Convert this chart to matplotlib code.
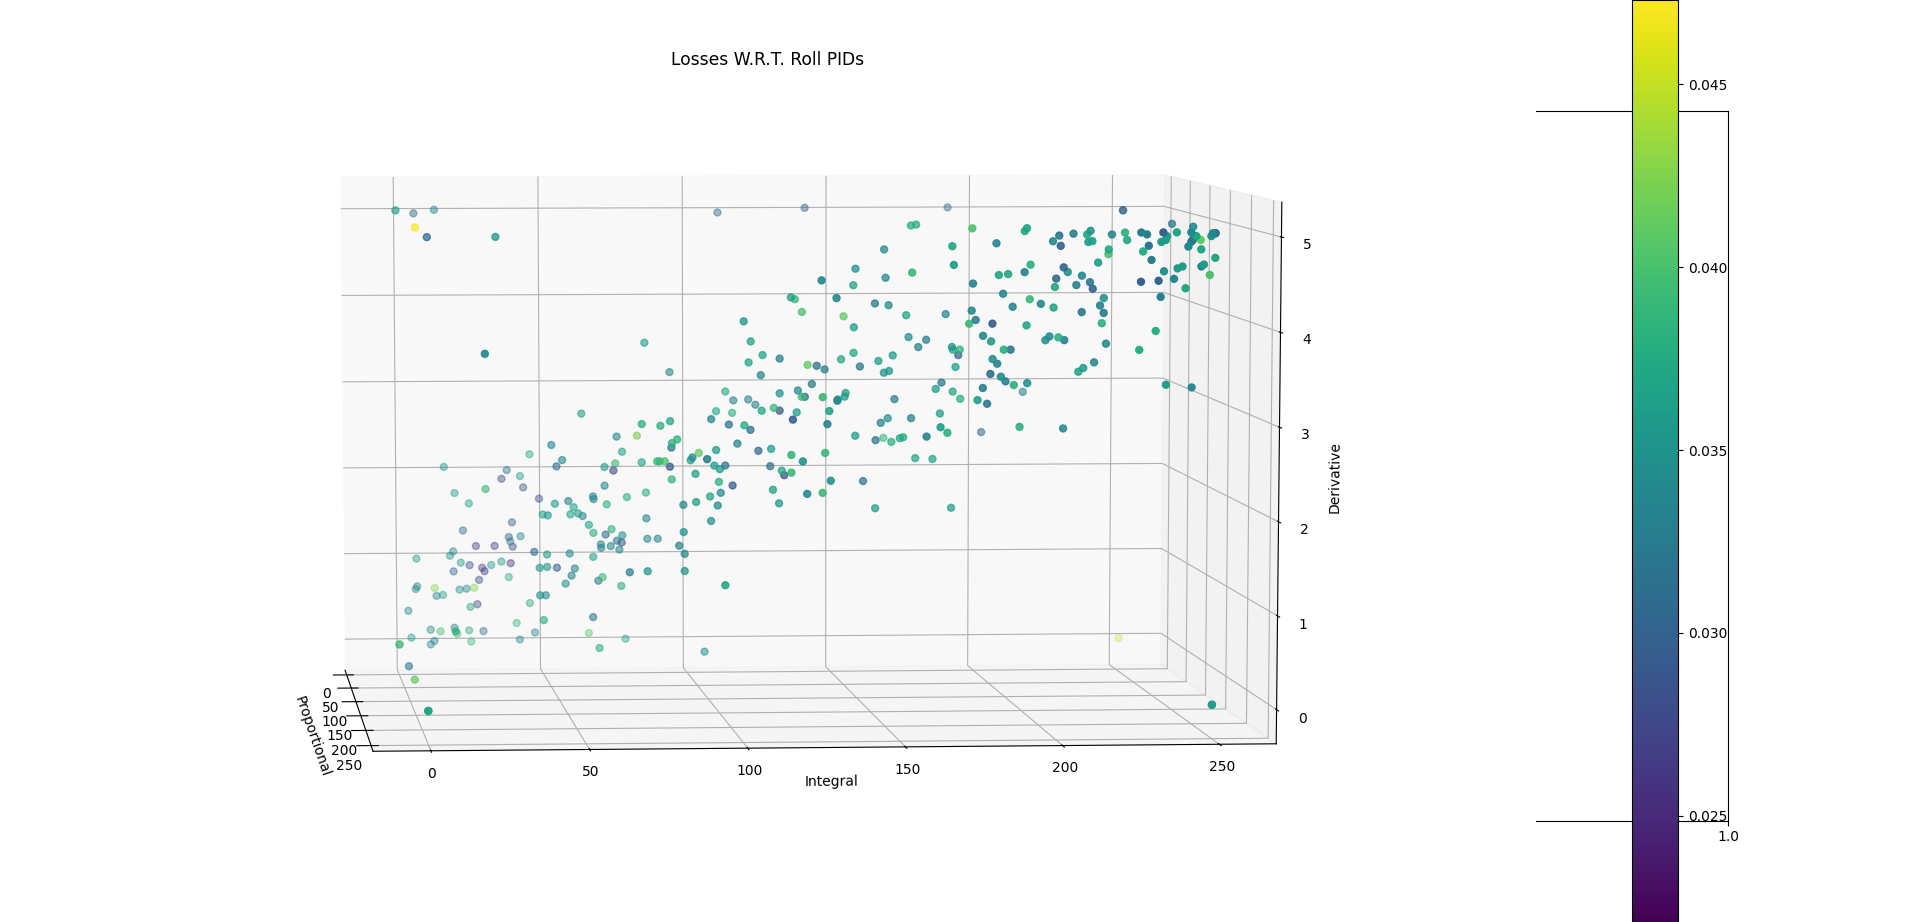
import matplotlib
matplotlib.use('Agg')
import numpy as np
import matplotlib.pyplot as plt

# (proportional, integral, derivative, loss), grouped by how far back the point sits
prop_a = 30
integ_a = [44.0, 14.7, 36.2, 34.4, 40.7, 41.8, 18.3, 23.2, 47.2, 37.9, 21.1, 36.8, 40.8, 37.3, 25.5, 31.9, 38.1, 17.7, 16.6,
           5.1, 20.3, 23.3, 27.6, 30.7, 34.2, 37.4, 28.4, 17.8, 36.7, 26.5, 5.3, 4.8, 11.3, 19.8, 22.2, 24.8, 14.1, 11.9,
           25.9, 23.5, 43.9, 2.2, 39.3, 9.8, 13.2, 18.0, 18.9, 23.0, 27.9, 45.6, 64.1, 3.2, 11.1, 9.8, 23.7, 40.4, 76.7,
           5.0, 12.0, 5.5, 5.5, 9.5, 9.5, 108.6, 138.4, 187.4]
deriv_a = [2.25, 2.11, 2.07, 1.97, 2.00, 1.87, 1.81, 1.69, 1.74, 1.47, 1.38, 1.30, 1.31, 1.25, 1.20, 1.20, 1.19, 1.14, 1.09,
           1.06, 1.01, .98, .95, .98, 1.02, 1.00, .91, .91, .84, .81, .74, .71, .72, .70, .71, .72, .64, .63,
           .53, .50, .54, .46, .31, .24, .22, .26, .19, .23, .22, .20, .19, .15, .11, .07, .10, .12, .12,
           5.00, 5.04, 4.84, 4.84, 4.73, 4.73, 5.00, 5.05, 5.05]
loss_a = [.037, .035, .032, .028, .036, .029, .036, .036, .028, .030, .031, .029, .034, .033, .027, .027, .028, .033, .035,
          .036, .036, .028, .028, .036, .036, .026, .026, .030, .038, .028, .034, .034, .043, .035, .034, .043, .036, .033,
          .028, .037, .037, .034, .039, .034, .040, .033, .040, .038, .031, .033, .041, .036, .033, .034, .039, .034, .036,
          .032, .034, .0473, .0473, .031, .031, .031, .030, .031]

prop_b = 90
integ_b = [70.1, 76.9, 48.2, 71.9, 51.8, 49.9, 66.0, 69.6, 78.5, 69.0, 26.1, 66.0, 49.3, 53.8, 62.1, 62.3, 66.7, 73.5, 79.9,
           55.6, 45.2, 46.9, 54.5, 57.1, 58.6, 80.0, 60.7, 62.2, 68.3, 66.3, 71.9, 42.3, 46.6, 54.2, 64.7, 64.8, 68.0, 70.1,
           71.7, 70.9, 80.3, 83.8, 44.1, 46.6, 49.9, 55.9, 62.1, 54.8, 65.2, 63.8, 52.8, 71.5, 44.2, 46.1, 62.0, 45.4, 64.1,
           99.5, 0.0, 79.5, 87.9, 58.3, 106.6, 109.3, 114.3, 116.7, 103.5, 108.9, 206.8, 159.8, 192.8]
deriv_b = [2.57, 2.58, 2.48, 2.40, 2.31, 2.24, 2.23, 2.27, 2.28, 2.19, 1.99, 2.02, 1.82, 1.85, 1.90, 1.87, 1.81, 1.89, 1.94,
           1.78, 1.70, 1.69, 1.70, 1.71, 1.68, 1.65, 1.58, 1.49, 1.53, 1.47, 1.46, 1.28, 1.25, 1.26, 1.36, 1.32, 1.34, 1.40,
           1.38, 1.30, 1.42, 1.42, 1.10, 1.11, 1.10, 1.09, 1.22, 1.01, .99, .95, .92, .89, .79, .79, .54, .51, .19,
           .14, .00, 3.62, 3.29, 2.83, 3.07, 2.97, 2.98, 2.92, 2.85, 2.83, 3.05, 2.54, 2.60]
loss_b = [.034, .042, .034, .037, .034, .031, .036, .039, .036, .027, .039, .034, .036, .033, .034, .033, .038, .038, .038,
          .037, .037, .035, .037, .036, .034, .033, .037, .038, .038, .031, .035, .031, .036, .034, .034, .034, .034, .032,
          .029, .034, .034, .033, .035, .035, .030, .034, .037, .033, .039, .033, .035, .038, .035, .034, .032, .037, .038,
          .035, .032, .036, .034, .037, .037, .033, .033, .033, .037, .038, .033, .039, .031]

prop_c = 150
integ_c = [74.6, 80.7, 83.9, 97.4, 103.2, 108.3, 110.3, 84.5, 86.2, 84.3, 93.3, 90.6, 91.2, 99.0, 106.0, 112.9, 117.1, 79.6, 80.4,
           82.1, 83.8, 84.4, 92.2, 98.4, 100.2, 102.0, 116.8, 120.6, 121.4, 99.9, 104.4, 88.2, 92.4, 97.0, 100.5, 99.5, 117.7,
           119.7, 97.3, 88.3, 86.8, 88.6, 70.5, 76.4, 88.6, 13.2, 27.0, 108.1, 110.4, 114.3, 109.7, 119.9, 113.7, 123.6, 124.9,
           127.2, 129.1, 132.1, 134.7, 130.5, 125.9, 119.9, 114.0, 118.0, 119.9, 125.5, 127.2, 128.2,
           163.0, 164.7, 154.2, 249.0, 144.8, 154.7, 144.1, 151.2, 155.7, 161.5, 174.5, 140.9, 144.3, 162.3, 168.1, 165.5, 176.6,
           176.9, 179.2, 178.7, 144.2, 140.1, 152.4, 157.1, 146.3, 154.2, 155.9, 177.8, 173.2, 171.3, 176.9, 179.4, 157.7, 141.6,
           141.3, 139.0, 172.7, 163.2, 155.5, 153.2, 144.8, 151.5, 156.7, 159.5, 160.6, 164.6, 170.3, 147.4, 151.4, 176.5]
deriv_c = [2.83, 2.81, 2.86, 2.88, 2.82, 2.81, 2.76, 2.62, 2.66, 2.57, 2.51, 2.43, 2.46, 2.54, 2.61, 2.53, 2.55, 2.42, 2.42,
           2.42, 2.36, 2.22, 2.28, 2.37, 2.33, 2.37, 2.36, 2.31, 2.26, 2.19, 2.15, 1.94, 1.97, 2.03, 2.07, 1.93, 2.10,
           1.95, 1.76, 1.64, 1.49, 1.40, 1.20, 1.21, 1.21, .56, 4.88, 3.95, 3.73, 3.58, 3.50, 3.54, 3.36, 4.21, 4.19,
           4.05, 3.47, 3.46, 3.42, 3.26, 3.19, 3.16, 2.97, 3.00, 2.97, 2.95, 3.12, 3.12,
           4.99, 5.00, 4.73, 5.00, 4.52, 4.42, 4.34, 4.14, 4.12, 4.01, 4.02, 4.00, 3.88, 3.77, 3.74, 3.66, 3.66,
           3.63, 3.63, 3.57, 3.60, 3.53, 3.51, 3.57, 3.45, 3.38, 3.40, 3.44, 3.27, 3.20, 3.17, 3.09, 3.09, 3.16,
           3.12, 3.09, 2.93, 2.88, 2.88, 2.83, 2.69, 2.64, 2.62, 2.66, 2.67, 2.44, 2.43, 2.19, 1.89, 1.89]
loss_c = [.038, .038, .037, .034, .032, .037, .031, .038, .038, .032, .041, .037, .034, .036, .034, .031, .036, .039, .039,
          .040, .029, .039, .036, .036, .036, .032, .032, .037, .028, .038, .029, .034, .036, .037, .034, .034, .036,
          .035, .035, .035, .034, .034, .033, .035, .035, .038, .036, .035, .037, .037, .037, .033, .034, .036, .039,
          .040, .041, .031, .033, .033, .034, .035, .037, .039, .029, .036, .039, .031,
          .038, .038, .034, .032, .035, .034, .037, .032, .034, .037, .034, .041, .036, .035, .033, .033, .035,
          .037, .038, .030, .037, .037, .036, .036, .032, .035, .035, .036, .032, .036, .037, .038, .033, .036,
          .036, .035, .036, .033, .035, .033, .036, .032, .038, .037, .037, .037, .037, .032, .036, .036]

prop_d = 210
integ_d = [119.2, 130.3, 91.6, 118.7, 129.6, 122.4, 118.7, 131.4, 123.8, 128.8, 97.4, 20.5, 128.4, 133.2, 128.8, 133.5, 130.9,
           176.8, 170.4, 184.6, 193.7, 194.4, 202.8, 204.8, 205.3, 209.4, 213.8, 214.9, 214.2, 215.5, 221.8, 226.0, 226.7, 220.8,
           220.7, 217.4, 248.0, 157.5, 170.9, 177.1, 185.4, 188.4, 193.7, 195.6, 206.3, 207.6, 203.9, 212.2, 203.5, 210.4, 214.8,
           215.7, 186.8, 219.3, 218.1, 219.3, 195.4, 199.0, 203.1, 189.9, 176.7, 212.2, 178.0, 175.9, 183.4, 194.4, 218.7, 180.4,
           183.0, 200.5, 201.8, 204.7, 206.6, 220.1, 187.1, 189.3, 183.5, 185.0, 216.3, 212.8, 211.2, 182.8, 186.2, 187.7, 190.4,
           194.7, 180.4, 178.7, 181.8, 162.3, 166.8, 169.0, 192.3, 206.4]
deriv_d = [2.99, 2.94, 2.57, 2.61, 2.63, 2.54, 2.42, 2.33, 2.19, 2.20, 1.21, 3.71, 4.48, 4.29, 3.23, 3.19, 3.08,
           5.03, 4.84, 4.87, 5.00, 5.03, 4.89, 4.95, 4.84, 4.97, 4.96, 5.00, 4.88, 4.89, 4.96, 4.98, 4.90, 4.80,
           4.75, 4.66, 5.04, 4.56, 4.64, 4.44, 4.53, 4.54, 4.56, 4.64, 4.61, 4.56, 4.49, 4.52, 4.40, 4.42, 4.45,
           4.38, 4.33, 4.28, 4.20, 4.12, 4.27, 4.22, 4.18, 4.19, 4.15, 4.13, 4.05, 4.01, 4.01, 3.99, 4.01, 3.88,
           3.82, 3.83, 3.87, 3.86, 3.83, 3.79, 3.73, 3.73, 3.63, 3.58, 3.59, 3.53, 3.49, 3.47, 3.44, 3.39, 3.35,
           3.37, 3.32, 3.19, 3.15, 2.80, 2.90, 2.84, 2.90, 2.88]
loss_d = [.030, .033, .033, .039, .039, .035, .039, .035, .034, .039, .037, .034, .034, .034, .039, .034, .037,
          .040, .037, .034, .037, .037, .034, .032, .030, .033, .037, .035, .036, .036, .034, .038, .037, .037,
          .040, .036, .034, .039, .036, .033, .037, .037, .033, .038, .030, .035, .031, .034, .037, .033, .032,
          .030, .034, .035, .033, .032, .039, .034, .037, .034, .034, .032, .033, .039, .029, .037, .038, .034,
          .036, .035, .034, .038, .033, .034, .038, .032, .035, .033, .034, .036, .037, .031, .034, .033, .038,
          .035, .033, .036, .032, .033, .036, .038, .038, .034]

prop_e = 250
integ_e = [226.2, 228.0, 233.2, 234.4, 234.0, 232.6, 237.5, 242.1, 243.7, 245.1, 242.6, 242.1, 241.2, 248.5, 249.0, 249.8, 249.8,
           245.3, 249.8, 228.6, 226.8, 229.5, 239.4, 237.8, 233.5, 245.4, 246.2, 248.1, 236.7, 226.2, 231.8, 240.4, 232.5, 231.0,
           225.8, 234.4, 242.6]
deriv_e = [5.03, 5.01, 5.03, 4.99, 4.95, 4.93, 5.03, 5.03, 4.99, 4.95, 4.95, 4.93, 4.88, 4.99, 5.02, 5.02, 5.02,
           4.85, 4.76, 4.89, 4.83, 4.74, 4.67, 4.65, 4.62, 4.67, 4.69, 4.58, 4.54, 4.51, 4.52, 4.44, 4.35, 3.99,
           3.79, 3.42, 3.39]
loss_e = [.033, .033, .030, .036, .036, .036, .037, .034, .037, .041, .032, .034, .034, .035, .034, .031, .031,
          .037, .037, .032, .038, .033, .036, .036, .035, .033, .036, .040, .034, .030, .030, .037, .033, .038,
          .038, .036, .034]

# points stuck on the search limits, several runs on top of each other
prop_edge = [0, 0, 5, 5, 5, 140, 250, 250, 250, 250, 20, 20, 20, 0]
integ_edge = [0, 0, 0, 0, 0, 0, 0, 0, 250, 250, 249, 249, 249, 251]
deriv_edge = [5, 5, 0, 0, 0, 0, 0, 0, 0, 0, 5.0, 5.0, 5.0, 0]
loss_edge = [.037, .037, .039, .039, .039, .041, .037, .037, .036, .036, .030, .030, .030, .045]

prop = [prop_a] * len(integ_a) + [prop_b] * len(integ_b) + [prop_c] * len(integ_c) + [prop_d] * len(integ_d) + [prop_e] * len(integ_e) + prop_edge
integ = integ_a + integ_b + integ_c + integ_d + integ_e + integ_edge
deriv = deriv_a + deriv_b + deriv_c + deriv_d + deriv_e + deriv_edge
loss = loss_a + loss_b + loss_c + loss_d + loss_e + loss_edge

fig = plt.figure(figsize=(19.2, 9.22), dpi=100)

# empty 2D axes sits behind the 3D one, only its right part shows
ax2d = fig.add_subplot(111)

ax = fig.add_axes([0, 0, 0.8, 1], projection='3d')
ax.apply_aspect = lambda position=None: None  # let the box stretch over the whole rect
ax.set_box_aspect((1, 1, 1), zoom=0.9467)
ax.view_init(elev=6, azim=-4.8)

sc = ax.scatter(prop, integ, deriv, c=loss, cmap='viridis', vmin=0.0221, vmax=0.0473, s=25, linewidths=1)

ax.set_xlim(-18.2, 268.2)
ax.set_ylim(-18.2, 268.2)
ax.set_zlim(-0.365, 5.365)
ax.set_xticks([0, 50, 100, 150, 200, 250])
ax.set_yticks([0, 50, 100, 150, 200, 250])
ax.set_zticks([0, 1, 2, 3, 4, 5])
ax.set_xlabel('Proportional')
ax.set_ylabel('Integral')
ax.set_zlabel('Derivative')
ax.set_title('Losses W.R.T. Roll PIDs', y=1.0, fontsize=12.3)

cax = fig.add_axes([0.85, 0, 46 / 1920, 1])
fig.colorbar(sc, cax=cax)

fig.savefig('out.png', dpi=100)
